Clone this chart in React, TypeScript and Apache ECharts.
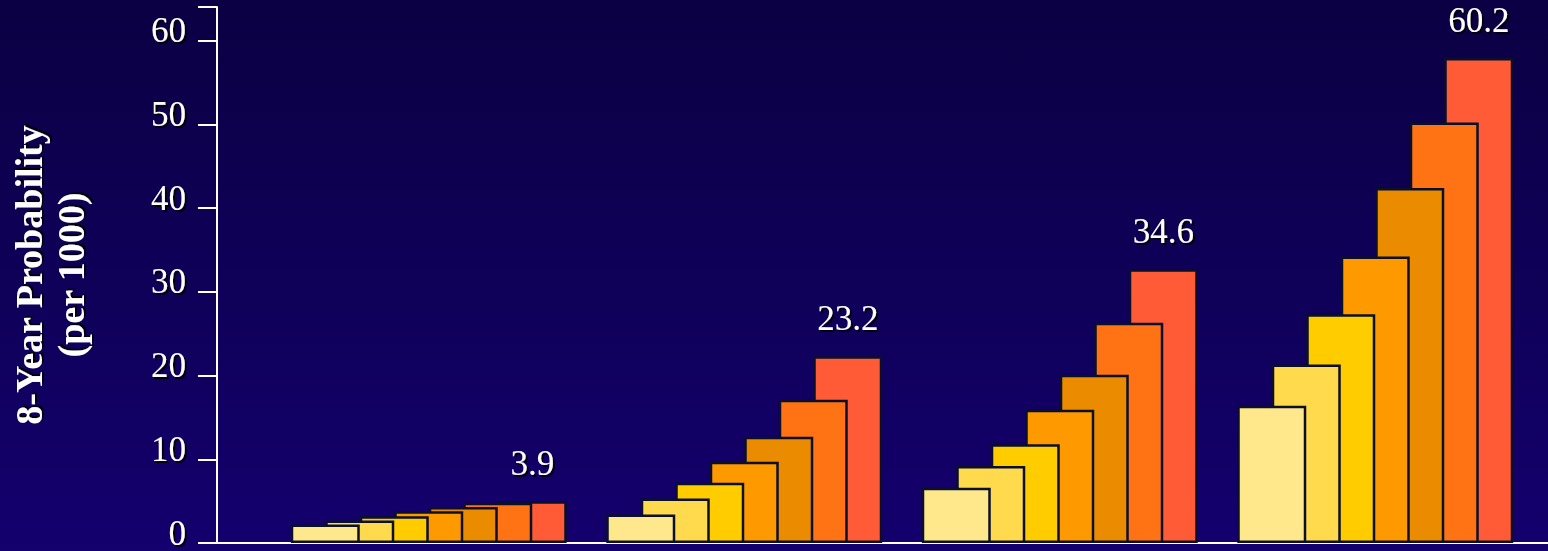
import React, { useEffect, useRef } from "react";
import * as echarts from "echarts";

const categories = ["Group 1", "Group 2", "Group 3", "Group 4"];
const seriesValues: number[][] = [
  [2.2, 3.4, 6.6, 16.4],
  [2.7, 5.3, 9.2, 21.3],
  [3.2, 7.2, 11.8, 27.3],
  [3.8, 9.7, 15.9, 34.2],
  [4.3, 12.7, 20.1, 42.4],
  [4.8, 17.1, 26.3, 50.2],
  [5.0, 22.3, 32.7, 57.9],
];
const topLabels = ["3.9", "23.2", "34.6", "60.2"];
const yTicks = [0, 10, 20, 30, 40, 50, 60];
const colors = ["#FFE88C", "#FFDA4D", "#FFCC00", "#FF9900", "#EA8B00", "#FF7315", "#FF5B37"];
const yTitle = "8-Year Probability\n(per 1000)";

const FONT = '"Liberation Serif", "Times New Roman", serif';
const shadow = {
  textShadowColor: "rgba(0,0,0,0.85)",
  textShadowOffsetX: 2,
  textShadowOffsetY: 2,
  textShadowBlur: 1,
};

export default function App() {
  const ref = useRef<HTMLDivElement>(null);
  useEffect(() => {
    if (!ref.current) return;
    const chart = echarts.init(ref.current, undefined, { renderer: "svg" });
    const option: any = {
      animation: false,
      grid: [
        { left: 217, right: 0, top: 7, bottom: 8, outerBoundsMode: "none", containLabel: false },
        { left: 271, right: 15, top: 7, bottom: 8, outerBoundsMode: "none", containLabel: false },
      ],
      xAxis: [
        {
          gridIndex: 0,
          type: "value",
          min: 0,
          max: 1,
          axisLine: { show: true, lineStyle: { color: "#ffffff", width: 2 } },
          axisTick: { show: false },
          axisLabel: { show: false },
          splitLine: { show: false },
        },
        {
          gridIndex: 1,
          type: "category",
          data: categories,
          show: false,
        },
      ],
      yAxis: [
        {
          gridIndex: 0,
          type: "value",
          min: 0,
          max: 64,
          interval: 10,
          axisLine: { show: true, lineStyle: { color: "#ffffff", width: 2 } },
          axisTick: { show: true, inside: false, length: 19, lineStyle: { color: "#ffffff", width: 2 } },
          splitLine: { show: false },
          axisLabel: {
            color: "#ffffff",
            fontFamily: FONT,
            fontSize: 35,
            margin: 31,
            lineHeight: 20,
            verticalAlign: "bottom",
            formatter: (v: number) => (yTicks.includes(v) ? String(v) : ""),
            ...shadow,
          },
          name: yTitle,
          nameLocation: "middle",
          nameGap: 125,
          nameTextStyle: {
            color: "#ffffff",
            fontFamily: FONT,
            fontSize: 38,
            fontWeight: "bold",
            lineHeight: 42,
            align: "center",
            ...shadow,
          },
        },
        {
          gridIndex: 1,
          type: "value",
          min: 0,
          max: 64,
          show: false,
        },
      ],
      series: seriesValues.map((vals, i) => ({
        type: "bar",
        xAxisIndex: 1,
        yAxisIndex: 1,
        data: vals,
        barWidth: 69,
        barGap: "-50%",
        z: 20 - i,
        itemStyle: { color: colors[i], borderColor: "#0a0f2a", borderWidth: 2.5 },
        label:
          i === seriesValues.length - 1
            ? {
                show: true,
                position: "top",
                distance: 26,
                lineHeight: 24,
                color: "#ffffff",
                fontFamily: FONT,
                fontSize: 35,
                formatter: (p: any) => topLabels[p.dataIndex],
                ...shadow,
              }
            : { show: false },
      })),
    };
    chart.setOption(option);
    return () => chart.dispose();
  }, []);
  return (
    <div
      ref={ref}
      style={{
        position: "fixed",
        left: 0,
        top: 0,
        width: 1548,
        height: 551,
        background: "linear-gradient(to bottom, #0b0043 0%, #0f0058 50%, #14006e 100%)",
      }}
    />
  );
}
